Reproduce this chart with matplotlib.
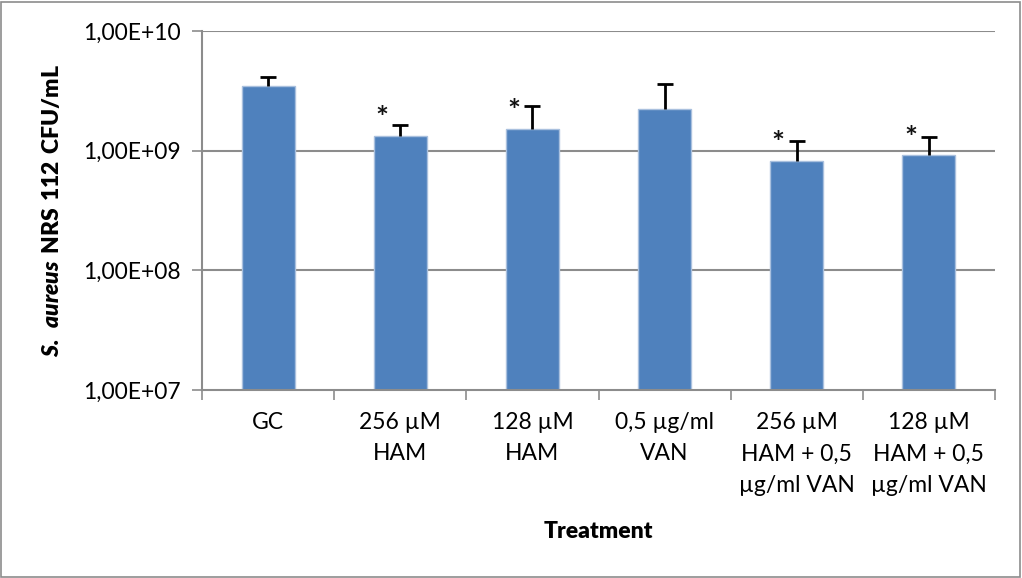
import matplotlib
matplotlib.use("Agg")
import matplotlib.pyplot as plt
from matplotlib.patches import Rectangle
import numpy as np

categories = ["GC", "256 µM\nHAM", "128 µM\nHAM", "0,5 µg/ml\nVAN",
              "256 µM\nHAM + 0,5\nµg/ml VAN", "128 µM\nHAM + 0,5\nµg/ml VAN"]
values = [3.44e9, 1.32e9, 1.51e9, 2.21e9, 8.22e8, 9.12e8]
err_top = [4.12e9, 1.64e9, 2.37e9, 3.58e9, 1.21e9, 1.31e9]
significant = [False, True, True, False, True, True]
ytick_vals = [1e7, 1e8, 1e9, 1e10]
ytick_labels = ["1,00E+07", "1,00E+08", "1,00E+09", "1,00E+10"]

plt.rcParams['font.family'] = ['Lato', 'DejaVu Sans']
plt.rcParams['mathtext.fontset'] = 'custom'
plt.rcParams['mathtext.bfit'] = 'Lato:italic:heavy'
plt.rcParams['mathtext.bf'] = 'Lato:heavy'
plt.rcParams['mathtext.rm'] = 'Lato'

fig = plt.figure(figsize=(10.22, 5.78), dpi=100)
ax = fig.add_axes([202/1022, 1 - 390/578, (995-202)/1022, (390-31)/578])

grid_c = "#8c8c8c"
fs = 16.5
x = np.arange(len(categories))
ax.set_yscale('log')
ax.set_ylim(1e7, 1e10)
ax.set_xlim(-0.5, len(categories) - 0.5)

for yv in ytick_vals[1:]:
    ax.axhline(yv, color=grid_c, lw=1.5, zorder=0)

ax.bar(x, values, width=0.4, color="#4F81BD", edgecolor="#a9c0de", linewidth=1.0, zorder=2)
vals = np.array(values)
upper = np.array(err_top) - vals
eb = ax.errorbar(x, vals, yerr=[np.zeros_like(vals), upper], fmt='none', ecolor='black',
                 elinewidth=2.0, capsize=6, capthick=2.0, zorder=3)
eb[1][0].set_visible(False)

for i, s in enumerate(significant):
    if s:
        ax.annotate("*", xy=(x[i] - 0.14, values[i]), xytext=(0, 2), textcoords='offset points',
                    ha='center', va='bottom', fontsize=22, fontweight='bold', color='#111111')

ax.set_yticks(ytick_vals)
ax.set_yticklabels(ytick_labels, fontsize=fs)
ax.yaxis.set_minor_locator(matplotlib.ticker.NullLocator())
ax.tick_params(axis='y', which='major', length=7, width=1.2, color=grid_c, pad=8)

ax.set_xticks(x)
ax.set_xticklabels(categories, fontsize=fs, linespacing=1.6)
ax.set_xticks(np.arange(-0.5, len(categories) + 0.5, 1), minor=True)
ax.tick_params(axis='x', which='major', length=0, pad=16)
ax.tick_params(axis='x', which='minor', length=7, width=1.2, color=grid_c)

for sp in ['top', 'right']:
    ax.spines[sp].set_visible(False)
for sp in ['left', 'bottom']:
    ax.spines[sp].set_color(grid_c)
    ax.spines[sp].set_linewidth(1.5)

ax.set_xlabel("Treatment", fontsize=fs, fontweight='heavy')
ax.set_ylabel(r"$\mathbfit{S.\ aureus}\ \mathbf{NRS\ 112\ CFU/mL}$", fontsize=fs)
ax.yaxis.set_label_coords(-0.175, 0.5)
ax.xaxis.set_label_coords(0.5, -0.365)

fig.patches.append(Rectangle((0.001, 0.001), 0.997, 0.996, transform=fig.transFigure,
                             fill=False, edgecolor=grid_c, lw=1.2))

fig.savefig("out.png", dpi=100)
